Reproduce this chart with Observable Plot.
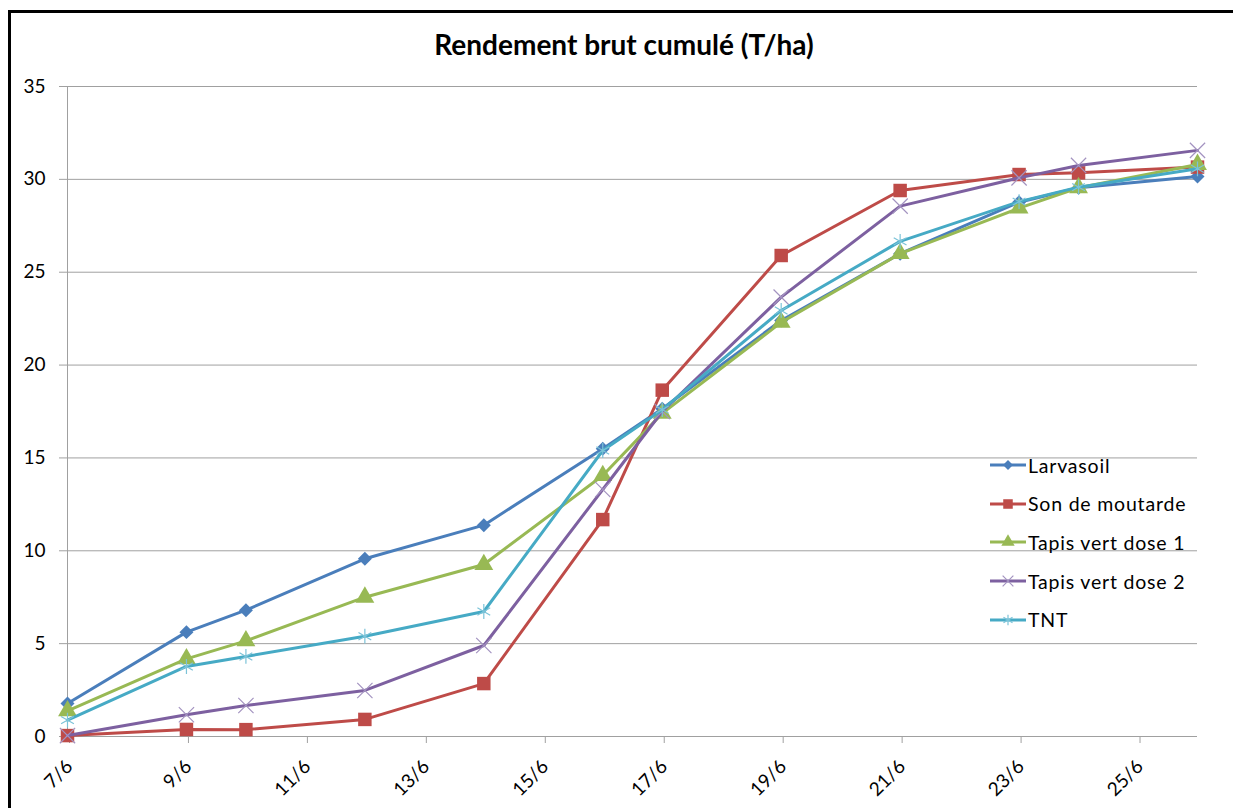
<!DOCTYPE html>
<html>
<head>
<meta charset="utf-8">
<script src="https://cdn.jsdelivr.net/npm/d3@7"></script>
<script src="https://cdn.jsdelivr.net/npm/@observablehq/plot@0.6"></script>
<style>
  html, body { margin: 0; padding: 0; background: #fff; }
  body { width: 1233px; height: 808px; position: relative; overflow: hidden; font-family: Lato, "Open Sans", sans-serif; }
  #frame { position: absolute; left: 8px; top: 10px; width: 1300px; height: 900px; border-left: 3px solid #000; border-top: 3px solid #000; pointer-events: none; }
  #title { position: absolute; left: 0; top: 27px; width: 1248px; text-align: center; font-weight: bold; font-size: 28px; color: #000; }
  #chart { position: absolute; left: 0; top: 0; }
  #chart g[aria-label="y-axis tick"], #chart g[aria-label="x-axis tick"] { stroke: #a0a0a0; }
  #legend { position: absolute; left: 988px; top: 446px; font-size: 19.5px; letter-spacing: 0.8px; color: #000; }
  #legend .row { height: 38.6px; display: flex; align-items: center; }
  #legend svg { display: block; margin-right: 2px; }
</style>
</head>
<body>
<div id="chart"></div>
<div id="frame"></div>
<div id="title">Rendement brut cumulé (T/ha)</div>
<div id="legend"></div>
<script>
// Days of June
const days = [7, 9, 10, 12, 14, 16, 17, 19, 21, 23, 24, 26];
const larvasoil     = [1.78, 5.62, 6.8, 9.57, 11.38, 15.5, 17.65, 22.4, 26.0, 28.77, 29.55, 30.15];
const sonDeMoutarde = [0.05, 0.38, 0.37, 0.92, 2.85, 11.68, 18.65, 25.9, 29.4, 30.26, 30.35, 30.66];
const tapisVert1    = [1.38, 4.18, 5.15, 7.5, 9.26, 14.05, 17.4, 22.3, 26.0, 28.45, 29.55, 30.8];
const tapisVert2    = [0.05, 1.17, 1.67, 2.48, 4.9, 13.3, 17.5, 23.66, 28.56, 30.08, 30.75, 31.56];
const tnt           = [0.88, 3.77, 4.31, 5.4, 6.73, 15.4, 17.6, 22.94, 26.66, 28.8, 29.58, 30.57];

const seriesNames = ["Larvasoil", "Son de moutarde", "Tapis vert dose 1", "Tapis vert dose 2", "TNT"];
const seriesValues = [larvasoil, sonDeMoutarde, tapisVert1, tapisVert2, tnt];
const lineColors = ["#4a7ebb", "#be4b48", "#98b954", "#7d60a0", "#46aac5"];
const markerColors = ["#4a7ebb", "#be4b48", "#98b954", "#a393c0", "#7cc3d8"];
const symbols = ["diamond2", "square", "triangle", "times", "asterisk"];
const symbolFilled = [true, true, true, false, false];
const symbolR = [6.3, 7.6, 7, 7, 7];

const yTicks = [0, 5, 10, 15, 20, 25, 30, 35];
const xTicks = [7, 9, 11, 13, 15, 17, 19, 21, 23, 25];
const xDomain = [7, 26];
const yDomain = [0, 35];

const data = [];
seriesNames.forEach((name, i) => {
  days.forEach((d, j) => data.push({series: name, day: d, value: seriesValues[i][j]}));
});

const marks = [
  Plot.gridY({ticks: yTicks, stroke: "#a0a0a0", strokeOpacity: 1}),
  Plot.ruleX([xDomain[0]], {stroke: "#a0a0a0"}),
  Plot.axisY({ticks: yTicks, tickSize: 8, tickPadding: 14, fontSize: 19, label: null}),
  Plot.axisX({ticks: xTicks, tickSize: 7, tickRotate: -45, tickPadding: 20, tickFormat: d => `${d}/6`, fontSize: 19, dx: 2, label: null})
];
seriesNames.forEach((name, i) => {
  const sub = data.filter(d => d.series === name);
  marks.push(Plot.line(sub, {x: "day", y: "value", stroke: lineColors[i], strokeWidth: 3, strokeLinejoin: "round"}));
  if (symbolFilled[i]) {
    marks.push(Plot.dot(sub, {x: "day", y: "value", symbol: () => symbols[i], r: symbolR[i], fill: markerColors[i], stroke: "none"}));
  } else {
    marks.push(Plot.dot(sub, {x: "day", y: "value", symbol: () => symbols[i], r: symbolR[i], fill: "none", stroke: markerColors[i], strokeWidth: 1.2}));
  }
});

const chart = Plot.plot({
  width: 1233,
  height: 808,
  marginLeft: 67,
  marginRight: 36,
  marginTop: 86,
  marginBottom: 72,
  style: {fontFamily: "Lato, 'Open Sans', sans-serif", fontSize: "19px", background: "#fff", color: "#000"},
  x: {type: "linear", domain: xDomain, axis: null},
  y: {type: "linear", domain: yDomain, axis: null},
  symbol: {type: "identity"},
  marks
});
document.getElementById("chart").appendChild(chart);

// Legend
const legend = d3.select("#legend");
const symMap = {diamond2: d3.symbolDiamond2, square: d3.symbolSquare, triangle: d3.symbolTriangle, times: d3.symbolTimes, asterisk: d3.symbolAsterisk};
seriesNames.forEach((name, i) => {
  const row = legend.append("div").attr("class", "row");
  const svg = row.append("svg").attr("width", 38).attr("height", 20);
  svg.append("line").attr("x1", 2).attr("x2", 38).attr("y1", 10).attr("y2", 10)
    .attr("stroke", lineColors[i]).attr("stroke-width", 3);
  const size = Math.PI * symbolR[i] * symbolR[i] * 0.5;
  const p = svg.append("path").attr("transform", "translate(20,10)")
    .attr("d", d3.symbol(symMap[symbols[i]], size)());
  if (symbolFilled[i]) p.attr("fill", markerColors[i]);
  else p.attr("fill", "none").attr("stroke", markerColors[i]).attr("stroke-width", 1.2);
  row.append("span").text(name);
});
</script>
</body>
</html>
